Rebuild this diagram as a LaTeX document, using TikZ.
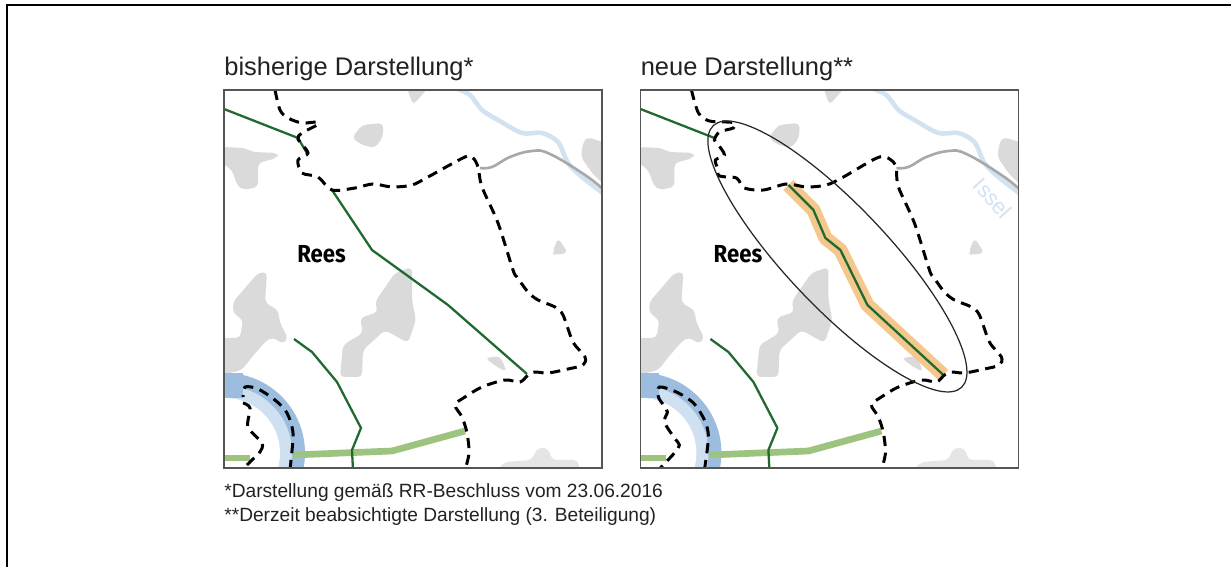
\documentclass[tikz,border=0pt]{standalone}
\usepackage{fontspec}
\setmainfont{Liberation Sans}
\newfontfamily\reesfont{Fira Sans}
\definecolor{frameblack}{HTML}{000000}
\definecolor{panelgrey}{HTML}{555555}
\definecolor{settle}{HTML}{DBDADB}
\definecolor{rhinedark}{HTML}{9DBDDF}
\definecolor{rhinelight}{HTML}{CFE0F0}
\definecolor{isselblue}{HTML}{D2E2F1}
\definecolor{lgreen}{HTML}{9CC47F}
\definecolor{dgreen}{HTML}{20692F}
\definecolor{greyline}{HTML}{A8A8A8}
\definecolor{orangeband}{HTML}{F4C88C}
\definecolor{titlecol}{HTML}{222222}
\tikzset{
  x=0.02cm,y=-0.02cm,
  settlefill/.style={fill=settle,draw=none,rounded corners=2.5pt},
  greenline/.style={draw=dgreen,line width=1.3pt,line join=round},
  lightgreenline/.style={draw=lgreen,line width=3.8pt,line join=round},
  boundary/.style={draw=black,line width=1.7pt,dash pattern=on 5.8pt off 3.8pt},
  panelframe/.style={draw=panelgrey,line width=0.8pt},
  titletext/.style={anchor=base west,inner sep=0,text=titlecol,font=\fontsize{14.5}{17}\selectfont},
  notetext/.style={anchor=base west,inner sep=0,text=titlecol,font=\fontsize{10.9}{13}\selectfont},
  reestext/.style={anchor=base west,inner sep=0,text=black,xscale=0.9,transform shape,font=\reesfont\bfseries\fontsize{14}{16}\selectfont}
}
\newcommand{\panelbase}{%
  \begin{scope}
    \clip (224,90) rectangle (602,468);
    \fill[settlefill] (407,88)--(428,88)--(413,105)--cycle;
    \fill[settlefill] (352,138)--(362,125)--(383,123)--(383,137)--(375,148)--(362,145)--cycle;
    \fill[settlefill] (222,147)--(245,148)--(252,152)--(278,153)--(277,158)--(258,163)--(258,187)--(243,190)--(237,185)--(232,170)--(222,163)--cycle;
    \fill[settlefill] (587,137)--(606,143)--(606,187)--(592,173)--(581,157)--(583,143)--cycle;
    \fill[settlefill] (552,253)--(558,238)--(568,253)--(555,255)--cycle;
    \fill[settlefill] (258,273)--(267,272)--(265,303)--(278,310)--(280,323)--(288,338)--(283,344)--(272,337)--(265,342)--(252,357)--(242,370)--(222,375)--(222,338)--(240,338)--(243,320)--(233,313)--(233,302)--cycle;
    \fill[settlefill] (395,273)--(412,267)--(412,300)--(416,320)--(408,343)--(385,330)--(363,350)--(362,377)--(340,377)--(343,345)--(363,333)--(360,318)--(378,312)--(375,302)--cycle;
    \fill[settlefill] (485,358)--(500,356)--(507,372)--(497,367)--cycle;
    \fill[settle!70!white,rounded corners=2.5pt] (495,472)--(505,462)--(532,460)--(537,448)--(548,448)--(552,460)--(578,460)--(580,472)--cycle;
    \draw[isselblue,line width=2.6pt,line join=round] plot[smooth,tension=0.5] coordinates {(455,88)(470,95)(482,110)(498,120)(522,133)(542,133)(558,142)(568,163)(582,177)(604,194)};
    \fill[rhinedark] (225,453) circle[radius=80];
    \fill[rhinelight] (225,453) circle[radius=67];
    \fill[rhinedark] (222,373) rectangle (243,398);
    \fill[white] (225,453) circle[radius=55];
    \draw[greyline,line width=1.5pt] plot[smooth,tension=0.7] coordinates {(480,168)(492,167)(510,157)(532,151)(550,154)(585,175)(604,190)};
    \draw[lightgreenline] (222,458)--(250,458);
    \draw[lightgreenline] (293,455)--(392,451)--(465,431);
    \draw[greenline] (224,109)--(298,138);
    \draw[greenline] (294,339)--(312,352)--(337,382)--(361,428)--(352,450)--(353,470);
  \end{scope}
}
\begin{document}
\begin{tikzpicture}
\useasboundingbox (0,0) rectangle (1231,567);
\fill[white] (0,0) rectangle (1231,567);
\draw[frameblack,line width=1.1pt] (7,570)--(7,5)--(1233,5);
% left panel
\panelbase
\begin{scope}
  \clip (224,90) rectangle (602,468);
  \draw[greenline] (298,138)--(308,155);
  \draw[greenline] (332,190)--(372,250)--(448,305)--(527,374);
  \draw[boundary] plot[smooth,tension=0.5] coordinates {(275,90)(280,110)(288,118)(302,123)(317,122)(317,125)(302,133)(298,139)(308,153)(298,160)(302,173)(318,177)(332,190)(355,188)(373,184)(392,187)(412,185)(428,177)(465,157)(473,158)(478,167)(482,187)(498,223)(513,270)(517,277)(528,292)(538,300)(555,307)(563,315)(573,342)(585,357)(583,365)(568,369)(548,373)(535,372)(528,375)(520,382)(505,380)(482,387)(465,397)(455,405)(462,417)(467,433)(469,453)(465,470)};
  \draw[boundary] plot[smooth,tension=0.5] coordinates {(290,470)(291,460)(293,433)(287,413)(275,400)(258,389)(245,387)(243,397)};
  \draw[boundary] plot[smooth,tension=0.5] coordinates {(243,403)(250,408)(248,427)(262,443)(260,452)(252,460)(242,470)};
\end{scope}
\draw[panelframe] (224,90) rectangle (602,468);
\node[titletext] (tl) at (224,76) {bisherige Darstellung*};
\node[reestext] (rl) at (297,263) {Rees};
% right panel
\begin{scope}[xshift=8.33cm]
  \panelbase
  \begin{scope}
    \clip (224,90) rectangle (602,468);
    \draw[orangeband,line width=8pt,line join=round] (372,185)--(397,210)--(409,238)--(424,250)--(451,305)--(527,375);
    \draw[greenline] (372,185)--(397,210)--(409,238)--(424,250)--(451,305)--(527,375);
    \draw[boundary] plot[smooth,tension=0.5] coordinates {(275,90)(282,113)(293,121)(310,122)(318,123)(317,128)(303,132)(298,140)(302,145)(308,155)(299,160)(301,168)(303,176)(320,178)(328,188)(347,190)(370,184)(390,187)(410,185)(427,177)(463,157)(477,162)(480,170)(482,187)(498,223)(513,270)(517,277)(528,292)(538,300)(555,307)(563,315)(573,342)(585,357)(583,365)(568,369)(548,373)(535,372)(528,375)(520,382)(505,380)(482,387)(465,397)(455,405)(462,417)(467,433)(469,453)(465,470)};
    \draw[boundary] plot[smooth,tension=0.5] coordinates {(288,470)(292,437)(288,420)(277,403)(260,392)(243,387)(242,397)(247,405)(251,412)(248,422)(258,438)(263,445)(258,453)(242,470)};
    \draw[black!85,line width=0.7pt,rotate around={-46.5:(421,256.5)}] (421,256.5) ellipse[x radius=180.4,y radius=50.7];
    \node[inner sep=0,text=isselblue,rotate=-48,font=\fontsize{12.5}{14}\selectfont] (issel) at (576.5,198) {Issel};
  \end{scope}
  \draw[panelframe] (224,90) rectangle (602,468);
  \node[titletext] (tr) at (224,76) {neue Darstellung**};
  \node[reestext] (rr) at (297,263) {Rees};
\end{scope}
\node[notetext] (n1) at (224,498) {*Darstellung gemäß RR-Beschluss vom 23.06.2016};
\node[notetext] (n2) at (224,521) {**Derzeit beabsichtigte Darstellung (3. Beteiligung)};
\end{tikzpicture}
\end{document}
